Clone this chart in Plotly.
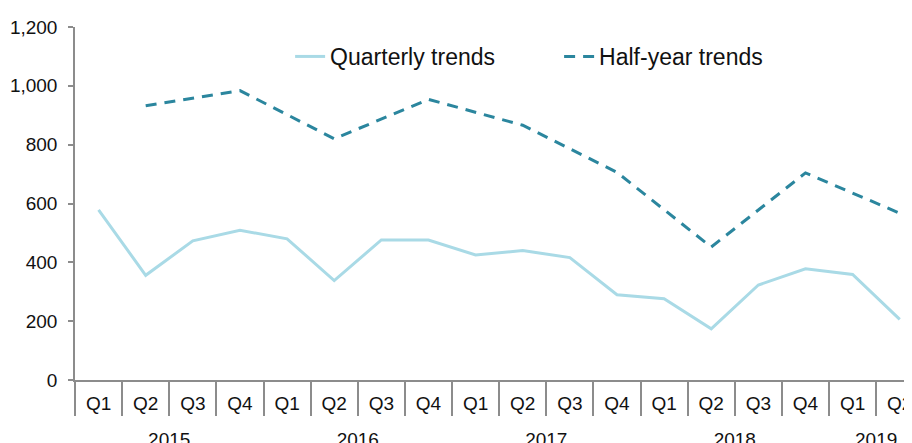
import plotly.graph_objects as go

years = ["2015"] * 4 + ["2016"] * 4 + ["2017"] * 4 + ["2018"] * 4 + ["2019"] * 2
quarters = ["Q1", "Q2", "Q3", "Q4"] * 4 + ["Q1", "Q2"]
quarterly = [578, 356, 473, 509, 480, 338, 476, 476, 425, 440, 416, 290,
             276, 174, 323, 378, 359, 206]
half_year = [None, 932, None, 984, None, 820, None, 954, None, 866, None, 706,
             None, 452, None, 704, None, 567]
year_labels = ["2015", "2016", "2017", "2018", "2019"]

labels = [f"{y} {q}" for y, q in zip(years, quarters)]
n = len(labels)
# group positions derived from the category lists
year_start = [years.index(y) for y in year_labels]
year_len = [years.count(y) for y in year_labels]
year_centers = [s + (l - 1) / 2 for s, l in zip(year_start, year_len)]
year_bounds = [s - 0.5 for s in year_start] + [n - 0.5]
quarter_bounds = [i - 0.5 for i in range(n + 1)]

FONT = "Liberation Sans, Arial, Helvetica, sans-serif"
AXIS = "#8c8c8c"
TXT = "#111111"
XR = [-0.5, 17.26]

fig = go.Figure()
fig.add_trace(go.Scatter(
    x=labels, y=quarterly, mode="lines", name="Quarterly trends",
    line=dict(color="#A9DAE6", width=3),
))
fig.add_trace(go.Scatter(
    x=labels, y=half_year, mode="lines", name="Half-year trends",
    connectgaps=True,
    line=dict(color="#2B869E", width=3, dash="11px,8px"),
))
# empty helper traces so the divider axis and the year-label axis are drawn
fig.add_trace(go.Scatter(x=quarter_bounds, y=[None] * len(quarter_bounds),
                         xaxis="x2", showlegend=False, hoverinfo="skip"))
fig.add_trace(go.Scatter(x=year_centers, y=[None] * len(year_centers),
                         xaxis="x3", showlegend=False, hoverinfo="skip"))

# page body has an 8px default margin, compensated in figure size/margins
fig.update_layout(
    width=912, height=435,
    margin=dict(l=67, r=8, t=19, b=63),
    paper_bgcolor="white", plot_bgcolor="white",
    font=dict(family=FONT, size=19, color=TXT),
    showlegend=True,
    legend=dict(
        orientation="h", x=0.257, xanchor="left", y=0.9165, yanchor="middle",
        font=dict(size=23, family=FONT, color=TXT),
        bgcolor="rgba(0,0,0,0)", entrywidth=224, entrywidthmode="pixels",
        itemwidth=30,
    ),
    xaxis=dict(
        type="category", range=XR,
        tickvals=labels, ticktext=quarters,
        showline=True, linecolor=AXIS, linewidth=1.5,
        ticks="", showgrid=False, zeroline=False,
        tickfont=dict(size=19, family=FONT, color=TXT),
        ticklabelstandoff=5,
        automargin=False,
    ),
    xaxis2=dict(
        overlaying="x", anchor="y", side="bottom", type="linear", range=XR,
        tickmode="array", tickvals=year_bounds, ticktext=[""] * len(year_bounds),
        ticks="outside", ticklen=90, tickcolor=AXIS, tickwidth=1.5,
        minor=dict(tickmode="array", tickvals=quarter_bounds, ticks="outside",
                   ticklen=35, tickcolor=AXIS, tickwidth=1.5, showgrid=False),
        showline=False, showgrid=False, zeroline=False,
        automargin=False,
    ),
    xaxis3=dict(
        overlaying="x", anchor="y", side="bottom", type="linear", range=XR,
        tickmode="array", tickvals=year_centers, ticktext=year_labels,
        ticks="", showline=False, showgrid=False, zeroline=False,
        tickfont=dict(size=19, family=FONT, color=TXT),
        ticklabelstandoff=46,
        automargin=False,
    ),
    yaxis=dict(
        range=[0, 1200], dtick=200, tickformat=",",
        showline=True, linecolor=AXIS, linewidth=1.5,
        ticks="outside", ticklen=5, tickcolor=AXIS, tickwidth=1.5,
        showgrid=False, zeroline=False,
        tickfont=dict(size=19, family=FONT, color=TXT),
        ticklabelstandoff=7,
        automargin=False,
    ),
)

fig.write_html("out.html")
